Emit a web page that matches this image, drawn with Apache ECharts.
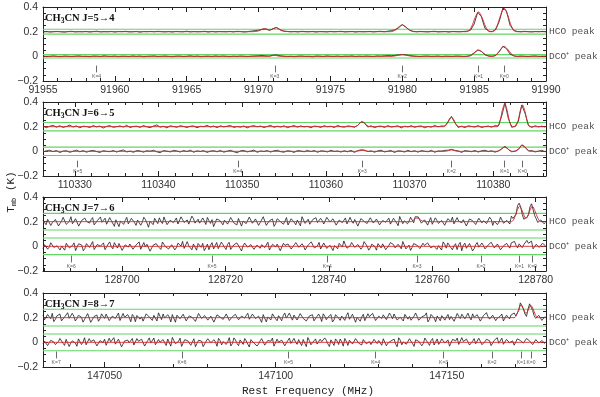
<!DOCTYPE html>
<html>
<head>
<meta charset="utf-8">
<script src="https://cdn.jsdelivr.net/npm/echarts@6/dist/echarts.min.js"></script>
<style>
  html, body { margin: 0; padding: 0; background: #fff; }
  #chart { width: 600px; height: 397px; }
</style>
</head>
<body>
<div id="chart"></div>
<script>
// ---- J=5-4 : channels from 91955 MHz, 0.25 MHz wide, Tmb in mK ----
const start1 = 91955, step1 = 0.25;
const hco1 = [-2,1,-3,0,2,-1,-4,1,3,-2, 0,-1,2,-3,1,4,-2,0,-1,2, -3,1,0,3,-2,-1,2,-4,1,0,
  2,-1,3,0,-2,1,-3,2,0,-1, 4,-2,1,-1,0,3,-3,2,-2,1, 0,-1,2,-2,3,1,-3,0,5,8,
  12,18,22,10,24,34,16,5,2,-1, 1,-2,3,0,-1,2,-3,1,0,-2, 2,-1,1,3,-2,0,2,-3,1,-1,
  0,2,-2,1,3,-1,4,9,14,32, 58,36,12,3,-1,2,0,-2,1,3, -2,0,1,-3,2,0,-1,2,4,12,
  62,158,122,28,5,1,16,84,192,168, 52,11,2,-1,3,0,-2,1,0,2, -1];
const dco1 = [1,-2,0,3,-1,-3,2,0,-2,1, 3,-1,0,-3,2,1,-2,4,0,-1, 2,-3,1,0,-2,3,-1,2,-4,0,
  1,3,-2,0,2,-1,-3,1,2,-2, 0,4,-1,2,-3,0,1,-2,3,-1, 2,0,-3,1,-1,2,0,-2,1,3,
  5,7,4,2,9,11,5,1,-2,0, -3,1,2,-1,0,-4,2,1,-2,3, 0,-1,2,-3,1,0,3,-2,1,-1,
  2,0,-2,3,1,4,6,5,8,11, 14,12,7,3,0,-2,1,2,-1,0, 2,-3,1,0,-1,2,1,-2,0,5,
  26,52,40,12,3,1,6,38,82,62, 18,4,-1,2,0,-2,1,3,-1,0, 1];
const fitHco1 = [[91955,0],[91969.6,0],[91970.0,6],[91970.4,25],[91970.8,14],[91971.2,33],[91971.6,8],[91972.1,0],
  [91979.2,0],[91979.5,13],[91979.75,38],[91979.99,55],[91980.25,38],[91980.5,13],[91980.8,0],
  [91984.5,0],[91984.81,38],[91985.06,112],[91985.31,160],[91985.56,112],[91985.81,38],[91986.1,0],
  [91986.3,0],[91986.59,46],[91986.84,133],[91987.09,190],[91987.34,133],[91987.59,46],[91987.9,0],[91990,0]];
const fitDco1 = [[91955,0],[91970.7,0],[91971.1,9],[91971.5,0],
  [91979.3,0],[91979.75,10],[91979.99,14],[91980.25,10],[91980.7,0],
  [91984.5,0],[91984.81,12],[91985.06,35],[91985.31,50],[91985.56,35],[91985.81,12],[91986.1,0],
  [91986.3,0],[91986.59,19],[91986.84,56],[91987.09,80],[91987.34,56],[91987.59,19],[91987.9,0],[91990,0]];
const kNum1 = [4, 3, 2, 1, 0];
const kFreq1 = [91958.73, 91971.13, 91979.99, 91985.31, 91987.09];
const ticks1 = [91955, 91960, 91965, 91970, 91975, 91980, 91985, 91990];

// ---- J=6-5 : from 110326.2 MHz, 0.4 MHz channels ----
const start2 = 110326.2, step2 = 0.4;
const hco2 = [5,-8,3,10,-4,7,-6,2,12,-3, 6,-9,4,1,-7,9,-2,5,-11,3, 8,-5,0,6,-3,11,-7,2,4,-6,
  9,-1,-8,5,14,-4,3,-10,7,1, -5,8,2,-7,4,6,-9,3,0,10, -3,5,-8,7,-2,4,9,-6,1,-4,
  6,-10,3,8,-1,5,-7,2,11,-5, 4,-3,7,-8,1,9,-4,6,-2,3, -9,5,2,-6,8,-1,4,-7,10,0,
  -4,6,3,-5,10,40,30,-3,7,-8, 2,5,-6,9,-3,1,7,-10,4,-2, 8,-5,3,6,-9,2,-4,10,-1,5,
  5,38,82,33,-6,4,-8,7,2,-3, 9,-7,1,5,-4,8,6,85,192,66, -5,3,45,176,108,10,-6,7,-2,4, -3];
const dco2 = [-6,4,9,-3,7,-10,2,5,-8,1, 10,-4,6,-7,3,8,-2,-9,5,0, -3,7,-6,4,11,-5,2,-8,6,3,
  -7,5,1,9,-4,-11,6,2,-5,8, 3,-6,7,-2,10,-8,4,-1,6,-9, 2,5,-4,8,-7,1,9,-3,-12,4,
  7,-5,2,10,-8,3,-1,6,-6,4, 9,-3,-7,5,1,-9,6,3,-4,8, -2,7,-8,4,2,-5,9,-1,3,-6,
  5,-4,8,-9,6,12,10,-2,4,-7, 3,9,-5,1,7,-10,4,2,-6,8, -3,5,-7,6,1,-4,9,-8,3,2,
  8,9,16,8,4,-9,6,2,-3,7, -6,4,9,-2,5,-7,3,20,40,16, -4,2,16,52,34,4,6,-5,2,8, -4];
const fitHco2 = [[110326.2,0],[110363.45,0],[110363.8,10],[110364.05,28],[110364.35,40],[110364.65,28],[110364.9,10],[110365.25,0],
  [110374.1,0],[110374.44,20],[110374.69,55],[110374.99,78],[110375.29,55],[110375.54,20],[110375.9,0],
  [110380.47,0],[110380.82,48],[110381.07,130],[110381.37,185],[110381.67,130],[110381.92,48],[110382.3,0],
  [110382.6,0],[110382.95,45],[110383.2,122],[110383.5,175],[110383.8,122],[110384.05,45],[110384.4,0],[110386.3,0]];
const fitDco2 = [[110326.2,0],[110363.6,0],[110364.35,8],[110365.1,0],
  [110374.3,0],[110374.99,12],[110375.7,0],
  [110380.47,0],[110380.82,9],[110381.07,25],[110381.37,35],[110381.67,25],[110381.92,9],[110382.3,0],
  [110382.6,0],[110382.95,13],[110383.2,35],[110383.5,50],[110383.8,35],[110384.05,13],[110384.4,0],[110386.3,0]];
const kNum2 = [5, 4, 3, 2, 1, 0];
const kFreq2 = [110330.35, 110349.47, 110364.35, 110374.99, 110381.37, 110383.50];
const ticks2 = [110330, 110340, 110350, 110360, 110370, 110380];

// ---- J=7-6 : from 128684.7 MHz, 0.3 MHz channels; even channels in *A, odd channels in *B ----
const start3 = 128684.7, step3 = 0.3;
const hco3A = [12,-25,30,-8,18,-35,5,22,-15,40, -20,8,-42,25,3,-12,33,-28,15,-5, 28,-18,10,-38,20,6,-22,35,-10,14,
  -30,24,-6,18,-45,9,27,-16,4,38, -24,12,-8,30,-33,16,2,-20,45,-12, 20,-28,7,34,-14,-40,22,10,-26,15,
  5,31,-19,26,-36,11,-3,29,-22,17, -9,40,-30,8,21,-17,36,-11,3,-27, 24,-6,13,-34,28,1,-21,18,32,-15,
  9,-29,26,-4,14,-38,20,7,-18,35, -13,23,-31,10,4,-25,30,-8,16,-37, 19,6,-20,27,-10,42,-16,11,2,30,
  40,38,-12,15,-28,33,-6,9,-24,26, -18,14,37,-22,5,-9,28,-34,17,3, -26,21,8,-15,36,-30,12,-4,25,-19,
  10,45,30,130,120,20,35,120,140,24, -14,20,-8];
const hco3B = [-8,19,-31,6,27,-14,35,-22,3,-17, 24,-36,11,29,-5,16,-26,8,38,-12, -21,33,-3,15,-40,22,9,-18,27,-7,
  13,-29,36,-10,4,-24,18,31,-15,6, -34,21,10,-19,39,-6,14,-28,25,2, -12,30,-23,8,17,-35,26,-4,12,-20,
  34,-9,-27,19,5,-16,37,-13,22,-30, 7,28,-18,14,-38,24,1,-21,33,-11, 16,-25,9,40,-14,20,-32,11,-7,27,
  -19,35,-2,23,-28,13,-8,30,-24,6, 18,-36,25,3,-15,32,-11,21,-26,9, -4,29,-20,15,-33,26,7,-17,36,-9,
  45,12,-27,20,4,-21,31,-14,10,-29, 24,2,-18,33,-6,16,-35,22,8,-23, 28,-10,14,-31,19,5,-24,37,-13,11,
  -19,26,60,150,60,18,55,145,50,-6, 14,-17];
const dco3A = [-18,26,-6,34,-22,10,3,-31,20,-12, 28,-4,15,-36,22,-9,38,-20,6,13, -27,18,-2,30,-14,24,-40,8,19,-23,
  11,36,-17,-5,27,-30,14,2,-25,21, 7,-33,29,-11,16,40,-19,4,-28,12, 23,-8,-35,18,9,-21,31,-3,15,-26,
  33,-12,5,20,-38,26,-7,14,-24,10, -16,29,2,-30,17,-5,24,-34,8,19, -22,12,37,-14,3,-27,21,9,-18,32,
  -10,16,-29,25,6,-20,13,44,-15,4, 27,-23,11,-6,35,-31,18,-2,22,-13, 8,-26,30,14,-17,5,39,-21,10,-9,
  24,17,-33,7,28,-12,2,-25,19,36, -15,9,-28,21,13,-36,26,-4,15,-19, 31,-8,6,-24,18,42,-16,11,-30,20,
  3,28,40,-12,22,14,48,30,-20,16, -9,24,6];
const dco3B = [14,-23,29,-9,4,-30,18,25,-13,7, -35,21,10,-18,32,-5,-26,15,1,28, -11,36,-20,8,23,-33,12,-6,27,-16,
  5,-24,31,17,-39,9,22,-14,35,-3, -21,13,-29,26,2,-17,38,-8,19,-31, 10,24,-12,-27,30,6,-19,34,-7,16,
  -25,11,28,-15,3,37,-22,9,-32,20, 13,-10,33,-26,7,18,-36,25,-4,14, -18,30,-8,21,-29,11,36,-13,4,-22,
  27,-17,9,-34,19,24,-6,12,-28,31, -9,15,-23,38,2,-14,26,-31,10,20, -27,7,34,-12,17,-20,29,-5,-33,22,
  11,-18,25,-8,35,-24,13,6,-30,18, 28,-11,4,-26,32,9,-16,23,-37,14, -7,27,-21,10,33,-13,19,-28,5,24,
  -15,36,8,20,-10,30,25,42,-6,12, -18,9];
const fitHco3 = [[128684.7,0],[128756.0,0],[128756.3,7],[128756.5,21],[128757.03,30],[128757.5,21],[128758.0,7],[128758.6,0],
  [128775.3,0],[128775.9,30],[128776.4,88],[128776.88,125],[128777.4,88],[128777.9,35],[128778.12,27],
  [128778.35,35],[128778.86,88],[128779.36,125],[128779.86,88],[128780.4,30],[128781,0],[128782,0]];
const fitDco3 = [[128684.7,0],[128782,0]];
const kNum3 = [6, 5, 4, 3, 2, 1, 0];
const kFreq3 = [128690.15, 128717.39, 128739.68, 128757.03, 128769.44, 128776.88, 128779.36];
const ticks3 = [128700, 128720, 128740, 128760, 128780];

// ---- J=8-7 : from 147032 MHz, 0.45 MHz channels; even channels in *A, odd channels in *B ----
const start4 = 147032, step4 = 0.45;
const hco4A = [22,-30,8,35,-14,18,-26,5,40,-19, 13,-8,28,-36,10,24,-17,3,-29,31, -6,16,-40,21,9,-23,34,-12,2,26,
  -33,14,7,-20,38,-4,19,-27,11,30, -15,4,25,-37,17,-9,32,-21,6,13, -28,36,-2,20,-16,27,-34,8,15,-11,
  42,-24,10,3,-30,23,18,-13,29,-7, 12,-38,26,5,-18,33,-25,9,16,-3, 37,-20,14,-31,22,1,-14,28,-26,11,
  6,31,-17,19,-35,24,-5,13,-22,40, -10,17,3,-29,27,-15,8,35,-23,12, -6,21,-32,16,30,-19,4,-27,25,10,
  -13,38,-21,7,18,-34,26,-2,14,-25, 32,5,-16,23,-30,11,28,-9,36,-18, 3,24,-28,15,41,-12,20,-24,8,29,
  -15,13,22,38,6,120,70,10,112,58, -5,18,-22,9];
const hco4B = [-17,26,-9,-32,14,30,-21,11,-5,35, -27,19,4,-14,33,-38,8,22,-11,16, 29,-24,12,-6,37,-19,3,25,-33,9,
  18,-12,-28,31,6,-22,14,39,-16,-3, 24,-35,10,20,-9,28,-26,15,1,-30, 34,-7,17,-20,12,-36,23,5,-14,30,
  -23,8,27,-17,13,-4,36,-29,19,2, -12,25,-34,11,31,-8,16,-25,38,-15, 7,21,-19,33,-6,-27,14,24,-10,29,
  -31,12,3,26,-18,35,-22,9,17,-13, 28,-37,15,6,-24,32,-5,20,-28,11, 23,-16,37,-9,4,-30,18,27,-12,-21,
  13,30,-26,8,39,-14,21,-33,5,16, -20,26,10,-29,34,-7,15,-23,2,31, -11,19,-35,24,8,-18,36,-4,12,-27,
  20,-9,29,14,60,118,30,70,110,15, -8,12,-16];
const dco4A = [-12,20,-4,28,-18,6,33,-25,11,-7, 24,-32,15,2,-20,30,-10,17,-36,8, 26,-14,4,38,-22,12,-28,19,-3,31,
  -16,9,25,-30,14,-6,35,-19,1,22, -26,16,40,-11,7,-33,21,13,-24,29, -8,18,-35,10,27,-15,3,32,-21,14,
  5,-29,36,-9,20,-17,11,-38,24,6, -13,30,-23,15,9,-31,26,-4,19,-16, 34,-11,2,22,-27,13,39,-20,8,-14,
  25,-6,17,-34,12,28,-18,4,31,-25, 10,-2,37,-19,23,-12,6,-30,20,15, -24,33,-7,11,26,-36,18,3,-15,29,
  -10,21,8,-28,35,-5,14,-22,27,-13, 19,4,-31,24,12,-17,38,-9,16,-26, 30,-3,9,-21,25,13,-32,20,-8,34,
  -14,17,6,-23,28,15,-6,31,12,-18, 22,-5,14,-10];
const dco4B = [9,-27,16,3,-21,31,-8,24,-34,12, -5,28,-18,37,-11,6,20,-29,14,-2, -24,33,7,-15,26,-37,11,18,-9,-22,
  30,-4,15,-26,36,2,-19,23,-12,8, 27,-31,13,-6,34,-20,5,25,-14,-36, 17,10,-23,29,-3,21,-32,14,6,-17,
  38,-10,19,-27,4,31,-15,22,-6,-30, 12,26,-19,7,35,-24,1,18,-28,15, -9,32,-16,9,23,-35,13,-3,28,-21,
  6,36,-12,20,-25,11,27,-31,8,17, -14,30,-7,-22,34,4,-18,24,-10,13, 29,-28,5,21,-13,37,-20,10,-5,25,
  -33,16,22,-9,14,-25,31,3,-17,28, -6,20,-30,11,35,-15,7,26,-22,9, -12,33,-19,4,27,-27,15,38,-8,-16,
  24,-3,12,-20,30,8,-14,21,3,-11, 16,-7,10];
const fitHco4 = [[147032,0],[147169.7,0],[147170.45,25],[147171.1,74],[147171.75,105],[147172.4,74],[147173.05,38],
  [147173.3,38],[147173.94,72],[147174.59,100],[147175.24,70],[147175.9,24],[147176.6,0],[147179,0]];
const fitDco4 = [[147032,0],[147179,0]];
const kNum4 = [7, 6, 5, 4, 3, 2, 1, 0];
const kFreq4 = [147035.84, 147072.60, 147103.74, 147129.23, 147149.07, 147163.24, 147171.75, 147174.59];
const ticks4 = [147050, 147100, 147150];

// green noise levels (K) around each baseline
const noiseHco = [0.020, 0.034, 0.067, 0.068];
const noiseDco = [0.014, 0.034, 0.067, 0.068];

// put even and odd channel lists back into channel order
function mergeChannels(even, odd) {
  const out = [];
  even.forEach((v, i) => { out.push(v); if (i < odd.length) out.push(odd[i]); });
  return out;
}

const panels = [
  { j: '5→4', min: 91955, max: 91990, minorStep: 1, ticks: ticks1, start: start1, step: step1,
    hco: hco1, dco: dco1, fitH: fitHco1, fitD: fitDco1, kN: kNum1, kF: kFreq1, top: 7 },
  { j: '6→5', min: 110326.2, max: 110386.3, minorStep: 2, ticks: ticks2, start: start2, step: step2,
    hco: hco2, dco: dco2, fitH: fitHco2, fitD: fitDco2, kN: kNum2, kF: kFreq2, top: 102 },
  { j: '7→6', min: 128684.7, max: 128782, minorStep: 5, ticks: ticks3, start: start3, step: step3,
    hco: mergeChannels(hco3A, hco3B), dco: mergeChannels(dco3A, dco3B),
    fitH: fitHco3, fitD: fitDco3, kN: kNum3, kF: kFreq3, top: 197 },
  { j: '8→7', min: 147032, max: 147179, minorStep: 10, ticks: ticks4, start: start4, step: step4,
    hco: mergeChannels(hco4A, hco4B), dco: mergeChannels(dco4A, dco4B),
    fitH: fitHco4, fitD: fitDco4, kN: kNum4, kF: kFreq4, top: 293 }
];

const ink = '#222';
const grids = [], xAxes = [], yAxes = [], series = [], titles = [];

panels.forEach((p, gi) => {
  grids.push({ left: 43, right: 54, top: p.top, height: 74 });

  const minor = [];
  for (let v = Math.ceil(p.min / p.minorStep) * p.minorStep; v <= p.max; v += p.minorStep) minor.push(v);

  const base = {
    gridIndex: gi, type: 'value', min: p.min, max: p.max,
    splitLine: { show: false },
    axisLine: { show: true, onZero: false, lineStyle: { color: ink, width: 1 } }
  };
  const hidden = { show: false, onZero: false };
  xAxes.push(
    { ...base, position: 'bottom',
      axisTick: { inside: true, length: 5, customValues: p.ticks, lineStyle: { color: ink } },
      axisLabel: { customValues: p.ticks, fontSize: 10.5, color: '#333', margin: 4,
        fontFamily: 'Liberation Sans', formatter: v => String(v) } },
    { ...base, position: 'bottom', axisLine: hidden,
      axisTick: { inside: true, length: 3, customValues: minor, lineStyle: { color: ink } }, axisLabel: { show: false } },
    { ...base, position: 'top',
      axisTick: { inside: true, length: 5, customValues: p.ticks, lineStyle: { color: ink } }, axisLabel: { show: false } },
    { ...base, position: 'top', axisLine: hidden,
      axisTick: { inside: true, length: 3, customValues: minor, lineStyle: { color: ink } }, axisLabel: { show: false } }
  );

  const ybase = {
    gridIndex: gi, type: 'value', min: -0.2, max: 0.4, interval: 0.2,
    splitLine: { show: false },
    axisLine: { show: true, onZero: false, lineStyle: { color: ink, width: 1 } },
    axisTick: { inside: true, length: 5, lineStyle: { color: ink } },
    minorTick: { show: true, splitNumber: 4, length: 3, lineStyle: { color: ink } }
  };
  yAxes.push(
    { ...ybase, position: 'left',
      axisLabel: { fontSize: 10.5, color: '#333', margin: 5, fontFamily: 'Liberation Sans',
        formatter: v => Math.abs(v) < 1e-9 ? '0' : v.toFixed(1).replace('-', '\u2212') } },
    { ...ybase, position: 'right', axisLabel: { show: false } }
  );

  const xi = gi * 4, yi = gi * 2;
  const gH = noiseHco[gi], gD = noiseDco[gi];

  series.push({
    type: 'line', xAxisIndex: xi, yAxisIndex: yi, symbol: 'none', silent: true, z: 3,
    data: p.hco.map((v, i) => [p.start + i * p.step, v / 1000 + 0.2]),
    lineStyle: { color: '#1a1a1a', width: 0.8 }
  });
  series.push({
    type: 'line', xAxisIndex: xi, yAxisIndex: yi, symbol: 'none', silent: true, z: 3,
    data: p.dco.map((v, i) => [p.start + i * p.step, v / 1000]),
    lineStyle: { color: '#1a1a1a', width: 0.8 }
  });
  // green noise-level guides, one short two-point line each
  [0.2 + gH, 0.2 - gH, gD, -gD].forEach(y => {
    series.push({
      type: 'line', xAxisIndex: xi, yAxisIndex: yi, symbol: 'none', silent: true, z: 2,
      data: [[p.min, y], [p.max, y]],
      lineStyle: { color: '#62d662', width: 1.1 }
    });
  });
  series.push({
    type: 'line', xAxisIndex: xi, yAxisIndex: yi, symbol: 'none', silent: true, z: 4, smooth: 0.3,
    data: p.fitH.map(d => [d[0], d[1] / 1000 + 0.2]),
    lineStyle: { color: '#d8262a', width: 0.9 }
  });
  series.push({
    type: 'line', xAxisIndex: xi, yAxisIndex: yi, symbol: 'none', silent: true, z: 4, smooth: 0.3,
    data: p.fitD.map(d => [d[0], d[1] / 1000]),
    lineStyle: { color: '#d8262a', width: 0.9 }
  });
  // K component markers
  series.push({
    type: 'lines', coordinateSystem: 'cartesian2d', xAxisIndex: xi, yAxisIndex: yi, silent: true,
    data: p.kF.map(f => ({ coords: [[f, -0.075], [f, -0.13]] })),
    lineStyle: { color: '#444', width: 0.8, opacity: 1 }
  });
  series.push({
    type: 'scatter', xAxisIndex: xi, yAxisIndex: yi, symbolSize: 0, silent: true,
    data: p.kF.map((f, j) => [f, -0.163, 'K=' + p.kN[j]]),
    label: { show: true, position: 'inside', formatter: d => d.value[2], fontSize: 5,
      color: '#333', fontFamily: 'Liberation Sans' }
  });
  // right-hand source labels
  series.push({
    type: 'scatter', xAxisIndex: xi, yAxisIndex: yi, symbolSize: 0, silent: true,
    data: [[p.max, 0.2, 'HCO peak'], [p.max, 0, 'DCO\u207A peak']],
    label: { show: true, position: 'right', distance: 3, formatter: d => d.value[2],
      fontSize: 9.5, color: '#222', fontFamily: 'Liberation Mono' }
  });

  titles.push({
    text: '{a|CH}{s|3}{a|CN J=' + p.j + '}',
    left: 45, top: p.top + 5, padding: 0,
    textStyle: {
      rich: {
        a: { fontFamily: 'Liberation Serif', fontWeight: 'bold', fontSize: 10.5, color: '#111', lineHeight: 13 },
        s: { fontFamily: 'Liberation Serif', fontWeight: 'bold', fontSize: 7.5, color: '#111', lineHeight: 13, verticalAlign: 'bottom', padding: [4, 0, 0, 0] }
      }
    }
  });
});

const chart = echarts.init(document.getElementById('chart'), null, { renderer: 'canvas' });
chart.setOption({
  animation: false,
  backgroundColor: '#fff',
  title: titles,
  grid: grids,
  xAxis: xAxes,
  yAxis: yAxes,
  series: series,
  graphic: [
    { type: 'text', left: 242, top: 386,
      style: { text: 'Rest Frequency (MHz)', font: '11px "Liberation Mono"', fill: '#222' } },
    { type: 'text', x: 11, y: 192, rotation: Math.PI / 2,
      style: { text: 'T{s|mb} (K)', fill: '#222', align: 'center', verticalAlign: 'middle',
        font: '11px "Liberation Mono"',
        rich: { s: { fontSize: 7, fontFamily: 'Liberation Mono', padding: [6, 0, 0, 0], verticalAlign: 'bottom' } } } }
  ]
});
</script>
</body>
</html>
